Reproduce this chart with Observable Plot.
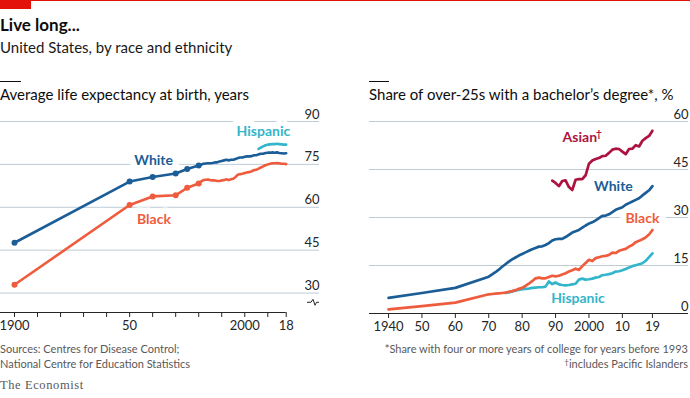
<!DOCTYPE html>
<html>
<head>
<meta charset="utf-8">
<script src="https://cdn.jsdelivr.net/npm/d3@7"></script>
<script src="https://cdn.jsdelivr.net/npm/@observablehq/plot@0.6"></script>
<style>
  html,body{margin:0;padding:0;background:#fff;}
  #root{position:relative;width:690px;height:398px;overflow:hidden;font-family:Lato,"Open Sans",sans-serif;color:#0d0d0d;}
  .t{position:absolute;white-space:nowrap;line-height:1;}
  .rule{position:absolute;background:#0d0d0d;height:1px;}
  .foot{font-size:11px;color:#595959;}
</style>
</head>
<body>
<div id="root">
  <div style="position:absolute;left:0;top:0;width:690px;height:1px;background:#e3120b"></div>
  <div style="position:absolute;left:0;top:0;width:31px;height:9px;background:#e3120b"></div>
  <div class="t" style="left:0;top:16px;font-size:17px;font-weight:700">Live long...</div>
  <div class="t" style="left:0;top:40px;font-size:15px;color:#1a1a1a">United States, by race and ethnicity</div>
  <div class="rule" style="left:0;top:81px;width:21px"></div>
  <div class="t" style="left:0;top:87px;font-size:15px;">Average life expectancy at birth, years</div>
  <div class="rule" style="left:369px;top:81px;width:20px"></div>
  <div class="t" style="left:369px;top:87px;font-size:15px;">Share of over-25s with a bachelor’s degree*, %</div>
  <div id="left" style="position:absolute;left:0;top:105px;width:330px;height:235px"></div>
  <div id="right" style="position:absolute;left:345px;top:105px;width:345px;height:235px"></div>
  <div class="t foot" style="left:0;top:343px;">Sources: Centres for Disease Control;</div>
  <div class="t foot" style="left:0;top:358px;">National Centre for Education Statistics</div>
  <div class="t foot" style="right:2px;top:343px;">*Share with four or more years of college for years before 1993</div>
  <div class="t foot" style="right:2px;top:358px;"><span style="font-size:8px;position:relative;top:-3px">†</span>includes Pacific Islanders</div>
  <div class="t" style="left:0;top:379px;font-size:12.5px;letter-spacing:0.6px;font-family:'Liberation Serif','DejaVu Serif',serif;color:#595959">The Economist</div>
</div>
<script>
// ---------- Left panel: life expectancy at birth ----------
const leXTicks = [1900,1910,1920,1930,1940,1950,1960,1970,1980,1990,2000,2010,2018];
const leXTickLabels = ["1900","","","","","50","","","","","2000","","18"];
const leYTicks = [30,45,60,75,90];
const leYears = [1900,1950,1960,1970,1975, ...d3.range(1980, 2019)];
const leMarkerYears = [1900,1950,1960,1970,1975,1980];
const leWhite = [47.6,69.0,70.6,71.8,73.4,
  74.6,74.9,75.2,75.3,75.4,75.4,75.5,75.7,75.7,76.0,
  76.2,76.4,76.6,76.4,76.6,76.6,76.9,77.2,77.4,77.4,
  77.7,77.8,77.8,77.9,78.2,78.2,78.5,78.7,78.7,79.0,
  79.1,79.1,79.2,79.1,79.2,79.0,78.9,78.8,78.9];
const leBlack = [32.9,60.8,63.8,64.2,66.8,
  68.3,69.0,69.5,69.6,69.7,69.5,69.4,69.4,69.2,69.2,
  69.4,69.5,69.8,69.5,69.8,70.0,70.6,71.4,71.6,71.7,
  72.0,72.2,72.3,72.6,73.0,73.1,73.5,73.9,74.3,74.7,
  75.0,75.2,75.4,75.4,75.5,75.4,75.2,75.2,75.1];
const leHispYears = d3.range(2006, 2019);
const leHispanic = [80.4,80.9,81.3,81.7,81.9,82.0,82.1,82.1,82.2,82.1,82.0,81.9,81.9];

// ---------- Right panel: bachelor's degree share ----------
const baXTicks = [1940,1950,1960,1970,1980,1990,2000,2010,2019];
const baXTickLabels = ["1940","50","60","70","80","90","2000","10","19"];
const baYTicks = [15,30,45,60];
const baYears = [1940,1950,1960, ...d3.range(1970, 2020)];
const baWhite = [4.9,6.4,8.0,
  11.5,12.2,12.9,13.7,14.6,15.4,16.2,16.9,17.5,18.1,
  18.6,19.1,19.6,20.1,20.5,20.9,21.0,21.4,22.0,22.8,
  23.2,23.3,23.3,23.9,24.6,25.3,25.7,26.1,26.8,27.5,
  28.1,28.5,29.1,29.8,30.5,30.6,31.0,31.7,32.4,32.8,
  33.2,34.0,34.5,35.0,35.5,36.0,36.9,37.7,38.5,39.8];
const baBlack = [1.3,2.3,3.4,
  6.0,6.1,6.2,6.3,6.4,6.5,6.8,7.0,7.3,7.7,
  8.0,8.6,9.3,10.1,11.0,11.2,11.0,11.0,11.4,11.8,
  11.6,11.8,12.2,12.6,13.1,13.5,14.0,13.6,14.8,15.8,
  16.8,16.4,17.3,17.6,17.9,18.0,18.3,19.0,18.9,19.6,
  19.9,20.2,20.9,21.4,22.3,22.7,23.2,23.8,24.7,26.1];
const baHispYears = d3.range(1975, 2020);
const baHispanic = [6.4,6.6,6.9,7.1,7.4,
  7.6,7.7,7.8,8.0,8.1,8.2,8.2,8.4,10.0,9.2,
  9.7,9.1,8.9,8.8,8.9,9.1,9.3,10.6,10.9,10.6,
  10.7,10.9,11.2,11.4,12.0,12.1,12.3,12.6,13.1,13.2,
  13.5,13.9,14.4,14.8,15.1,15.4,15.7,16.5,17.6,18.8];
const baAsianYears = d3.range(1989, 2020);
const baAsian = [41.5,40.8,39.8,41.4,41.6,39.5,38.6,41.8,42.0,42.0,
  43.2,46.8,47.8,48.3,48.6,49.2,49.3,50.2,51.2,
  51.5,51.4,50.6,49.8,51.4,51.5,52.6,52.2,54.0,54.8,55.5,57.1];

// ---------- styling ----------
const C = {White:"#1b5d96", Black:"#ef5b3d", Hispanic:"#33b5cb", Asian:"#ad1340"};
const GRID = "#bfccd6", AXIS = "#262626", TXT = "#262626";
const FONT = "Lato, 'Open Sans', sans-serif";

const tidy = (series, years, vals) => years.map((year, i) => ({series, year, value: vals[i]}));
const le = [...tidy("White", leYears, leWhite), ...tidy("Black", leYears, leBlack), ...tidy("Hispanic", leHispYears, leHispanic)];
const ba = [...tidy("Hispanic", baHispYears, baHispanic), ...tidy("Black", baYears, baBlack),
            ...tidy("White", baYears, baWhite), ...tidy("Asian", baAsianYears, baAsian)];

const only = (data, s) => data.filter(d => d.series === s);
const label = (data, s, year, txt, opts) => Plot.text(data.filter(d => d.series === s && d.year === year), {
  x: "year", y: "value", text: () => txt, fill: C[s], stroke: "white", strokeWidth: 13,
  fontWeight: 700, fontSize: 14, textAnchor: "middle", ...opts});

// Left chart
const leXDomain = [1893.92, 2032.46], leYDomain = [23.2, 90];
const leftPlot = Plot.plot({
  width: 330, height: 235, marginLeft: 0, marginRight: 11, marginTop: 16, marginBottom: 28,
  x: {domain: leXDomain, label: null}, y: {domain: leYDomain, axis: null, label: null},
  style: {fontFamily: FONT, fontSize: "13px", overflow: "visible", background: "transparent", color: TXT},
  marks: [
    Plot.ruleY(leYTicks, {stroke: GRID, strokeWidth: 1}),
    Plot.ruleY([leYDomain[0]], {x1: leXDomain[0], x2: 2018, stroke: AXIS, strokeWidth: 1}),
    Plot.axisX({ticks: leXTicks, tickFormat: d => leXTickLabels[leXTicks.indexOf(d)], tickSize: 5, tickPadding: 3, color: AXIS, fontSize: 13, label: null}),
    Plot.text(leYTicks, {y: d => d, text: d => String(d), frameAnchor: "right", textAnchor: "end", lineAnchor: "bottom", dy: -3, fill: TXT, fontSize: 13}),
    label(le, "White", 1960, "White", {dx: 1, dy: -16.4}),
    label(le, "Black", 1960, "Black", {dx: 1.3, dy: 22.9}),
    label(le, "Hispanic", 2006, "Hispanic", {dx: 4.8, dy: -17.4}),
    Plot.line(only(le, "Hispanic"), {x: "year", y: "value", stroke: C.Hispanic, strokeWidth: 2.6}),
    Plot.line(only(le, "White"), {x: "year", y: "value", stroke: C.White, strokeWidth: 2.6}),
    Plot.line(only(le, "Black"), {x: "year", y: "value", stroke: C.Black, strokeWidth: 2.6}),
    Plot.dot(only(le, "White").filter(d => leMarkerYears.includes(d.year)), {x: "year", y: "value", r: 3, fill: C.White}),
    Plot.dot(only(le, "Black").filter(d => leMarkerYears.includes(d.year)), {x: "year", y: "value", r: 3, fill: C.Black})
  ]
});
document.getElementById("left").appendChild(leftPlot);
// axis-break symbol under the lowest gridline
{
  const ys = leftPlot.scale("y");
  const yc = (ys.apply(30) + ys.apply(leYDomain[0])) / 2;
  const xr = 330 - 11;
  d3.select(leftPlot).append("path")
    .attr("d", `M${xr-12},${yc} H${xr-8} L${xr-6},${yc-3} L${xr-4},${yc+3} L${xr-2.5},${yc} H${xr}`)
    .attr("fill", "none").attr("stroke", AXIS).attr("stroke-width", 1);
}

// Right chart
const baXDomain = [1934.3, 2029.8], baYDomain = [0, 60];
const rightPlot = Plot.plot({
  width: 345, height: 235, marginLeft: 24, marginRight: 2, marginTop: 16, marginBottom: 27,
  x: {domain: baXDomain, label: null}, y: {domain: baYDomain, axis: null, label: null},
  style: {fontFamily: FONT, fontSize: "13px", overflow: "visible", background: "transparent", color: TXT},
  marks: [
    Plot.ruleY(baYTicks, {stroke: GRID, strokeWidth: 1}),
    Plot.ruleY([0], {stroke: AXIS, strokeWidth: 1}),
    Plot.axisX({ticks: baXTicks, tickFormat: d => baXTickLabels[baXTicks.indexOf(d)], tickSize: 5, tickPadding: 3, color: AXIS, fontSize: 13, label: null}),
    Plot.text([0, ...baYTicks], {y: d => d, text: d => String(d), frameAnchor: "right", textAnchor: "end", lineAnchor: "bottom", dy: -3, fill: TXT, fontSize: 13}),
    label(ba, "Asian", 1989, "Asian", {dx: 27.6, dy: -43.2}),
    label(ba, "Asian", 1989, "†", {dx: 46.6, dy: -47, fontSize: 10, strokeWidth: 0}),
    label(ba, "White", 2019, "White", {dx: -39, dy: 0.8}),
    label(ba, "Black", 2019, "Black", {dx: -10, dy: -11.5}),
    label(ba, "Hispanic", 2000, "Hispanic", {dx: -11, dy: 19}),
    Plot.line(only(ba, "Hispanic"), {x: "year", y: "value", stroke: C.Hispanic, strokeWidth: 2.7}),
    Plot.line(only(ba, "Black"), {x: "year", y: "value", stroke: C.Black, strokeWidth: 2.7}),
    Plot.line(only(ba, "White"), {x: "year", y: "value", stroke: C.White, strokeWidth: 2.7}),
    Plot.line(only(ba, "Asian"), {x: "year", y: "value", stroke: C.Asian, strokeWidth: 2.7})
  ]
});
document.getElementById("right").appendChild(rightPlot);
</script>
</body>
</html>
